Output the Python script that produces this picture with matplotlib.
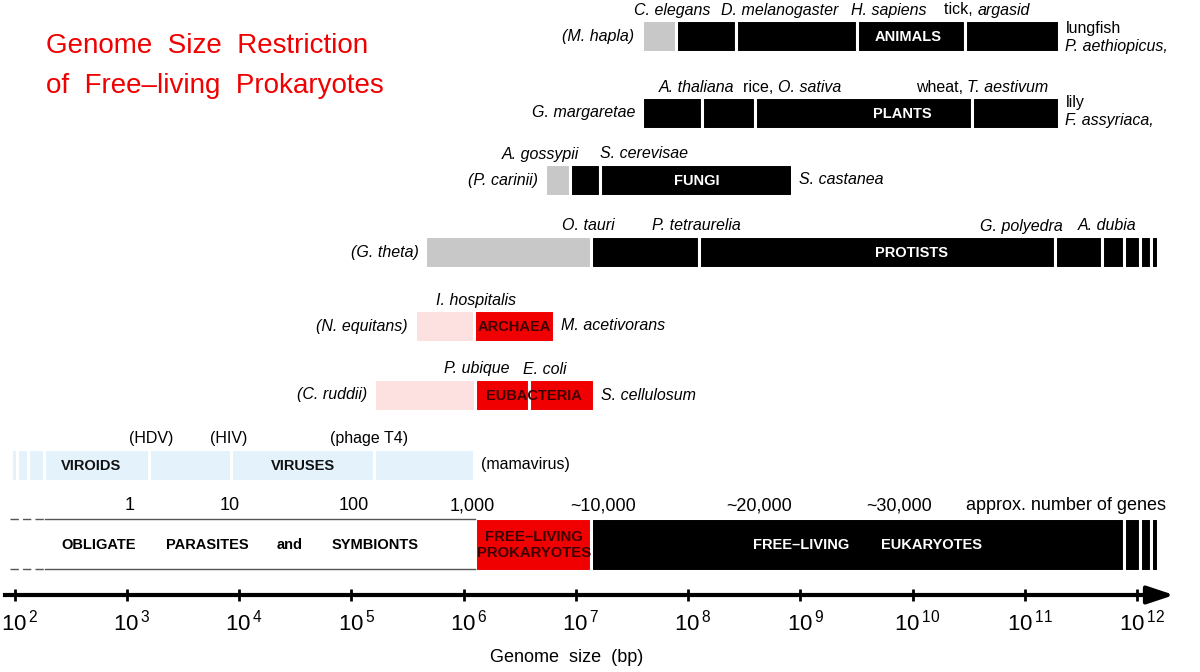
import matplotlib.pyplot as plt
import numpy as np
from matplotlib.ticker import NullLocator
from matplotlib.transforms import ScaledTranslation

plt.rcParams['font.family'] = ['Liberation Sans', 'DejaVu Sans']
plt.rcParams['mathtext.fontset'] = 'custom'
plt.rcParams['mathtext.rm'] = 'Liberation Sans'

GREY = '#c8c8c8'
BLUE = '#e4f2fc'
PINK = '#fde1e1'
RED = '#f00000'
DARKRED = '#3c0000'
BLACK = 'black'

# segment boundaries, log10 of genome size (bp)
animals = [7.586, 7.889, 8.432, 9.506, 10.465, 11.301]
plants = [7.590, 8.129, 8.599, 10.529, 11.301]
fungi = [6.722, 6.948, 7.220, 8.927]
protists = [5.661, 7.139, 8.098, 11.265, 11.687, 11.887, 12.029, 12.125, 12.186]
archaea = [5.566, 6.095, 6.808]
eubacteria = [5.207, 6.102, 6.581, 7.167]
viruses = [1.973, 2.022, 2.118, 2.267, 3.194, 3.929, 5.203, 6.095]
lifestyle = [6.102, 7.139, 11.887, 12.029, 12.125, 12.186]
parasites_range = [1.96, 2.272, 6.102]

animals_colors = [GREY] + [BLACK] * 4
plants_colors = [BLACK] * 4
fungi_colors = [GREY, BLACK, BLACK]
protists_colors = [GREY] + [BLACK] * 7
archaea_colors = [PINK, RED]
eubacteria_colors = [PINK, RED, RED]
viruses_colors = [BLUE] * 7
lifestyle_colors = [RED] + [BLACK] * 4

# species over the bars: (upright part, italic part), centre in log10 bp
animals_species = [('', 'C. elegans'), ('', 'D. melanogaster'), ('', 'H. sapiens'), ('tick, ', 'argasid')]
animals_species_x = [7.862, 8.82, 9.791, 10.664]
plants_species = [('', 'A. thaliana'), ('rice, ', 'O. sativa'), ('wheat, ', 'T. aestivum')]
plants_species_x = [8.078, 8.927, 10.619]
fungi_species = [('', 'A. gossypii'), ('', 'S. cerevisae')]
fungi_species_x = [6.682, 7.608]
protists_species = [('', 'O. tauri'), ('', 'P. tetraurelia'), ('', 'G. polyedra'), ('', 'A. dubia')]
protists_species_x = [7.109, 8.071, 10.967, 11.733]
archaea_species = [('', 'I. hospitalis')]
archaea_species_x = [6.111]
eubacteria_species = [('', 'P. ubique'), ('', 'E. coli')]
eubacteria_species_x = [6.12, 6.726]
viruses_species = [('(HDV)', ''), ('(HIV)', ''), ('(phage T4)', '')]
viruses_species_x = [3.216, 3.911, 5.158]

smallest = ['(M. hapla)', 'G. margaretae', '(P. carinii)', '(G. theta)', '(N. equitans)', '(C. ruddii)']
largest = ['', '', 'S. castanea', '', 'M. acetivorans', 'S. cellulosum', '(mamavirus)']

group_names = ['ANIMALS', 'PLANTS', 'FUNGI', 'PROTISTS', 'ARCHAEA', 'EUBACTERIA', 'VIROIDS']
group_names_x = [9.96, 9.907, 8.08, 9.987, 6.45, 6.63, 2.68]

gene_counts = ['1', '10', '100', '1,000', '~10,000', '~20,000', '~30,000']
gene_counts_x = [3.03, 3.92, 5.02, 6.08, 7.24, 8.63, 9.88]

row_y = [36, 113, 180, 252, 326, 395, 464.5]

fig = plt.figure(figsize=(12, 6.72), dpi=100)
ax = fig.add_axes([0, 0, 1, 1])
ax.set_xscale('log')
ax.set_xlim(10 ** 1.8708, 10 ** 12.5612)
ax.set_ylim(672, 0)
renderer = fig.canvas.get_renderer()


def species_label(x, y, upright, italic):
    # upright and italic parts side by side, centred on x
    if not italic:
        ax.text(x, y, upright, ha='center', va='center', fontsize=11.5)
        return
    if not upright:
        ax.text(x, y, italic, ha='center', va='center', fontsize=11.5, style='italic')
        return
    t1 = ax.text(x, y, upright, ha='left', va='center', fontsize=11.5)
    t2 = ax.annotate(italic, xy=(1, 0), xycoords=t1, ha='left', va='bottom',
                     fontsize=11.5, style='italic')
    w = t1.get_window_extent(renderer).width + t2.get_window_extent(renderer).width
    t1.set_transform(ax.transData + ScaledTranslation(-w / 2 / 100, 0, fig.dpi_scale_trans))


rows = [(animals, animals_colors, animals_species, animals_species_x),
        (plants, plants_colors, plants_species, plants_species_x),
        (fungi, fungi_colors, fungi_species, fungi_species_x),
        (protists, protists_colors, protists_species, protists_species_x),
        (archaea, archaea_colors, archaea_species, archaea_species_x),
        (eubacteria, eubacteria_colors, eubacteria_species, eubacteria_species_x),
        (viruses, viruses_colors, viruses_species, viruses_species_x)]

for i, (edges, colors, names, names_x) in enumerate(rows):
    y = row_y[i]
    bp = 10 ** np.array(edges)
    ax.barh(y, np.diff(bp), left=bp[:-1], height=32, color=colors,
            edgecolor='white', linewidth=2.2)
    for (up, it), nx in zip(names, names_x):
        species_label(10 ** nx, y - 26, up, it)
    if i < len(smallest):
        ax.annotate(smallest[i], xy=(bp[0], y), xytext=(-5, 0), textcoords='offset points',
                    ha='right', va='center', fontsize=11.5, style='italic')
    if largest[i]:
        ax.annotate(largest[i], xy=(bp[-1], y), xytext=(5, 0), textcoords='offset points',
                    ha='left', va='center', fontsize=11.5,
                    style='normal' if i == 6 else 'italic')
    tcolor = 'white' if i < 4 else (DARKRED if i < 6 else '#111111')
    ax.text(10 ** group_names_x[i], y + 1, group_names[i], ha='center', va='center',
            fontsize=10.5, fontweight='bold', color=tcolor)

ax.text(10 ** 4.57, row_y[6] + 1, 'VIRUSES', ha='center', va='center',
        fontsize=10.5, fontweight='bold', color='#111111')

# largest genomes
ax.annotate('lungfish', xy=(10 ** animals[-1], row_y[0] - 8), xytext=(5, 0),
            textcoords='offset points', va='center', fontsize=11.5)
ax.annotate('P. aethiopicus,', xy=(10 ** animals[-1], row_y[0] + 10), xytext=(5, 0),
            textcoords='offset points', va='center', fontsize=11.5, style='italic')
ax.annotate('lily', xy=(10 ** plants[-1], row_y[1] - 11), xytext=(5, 0),
            textcoords='offset points', va='center', fontsize=11.5)
ax.annotate('F. assyriaca,', xy=(10 ** plants[-1], row_y[1] + 8), xytext=(5, 0),
            textcoords='offset points', va='center', fontsize=11.5, style='italic')

# lifestyle band
band_y = 544
lb = 10 ** np.array(parasites_range)
for yy in [519, 569]:
    ax.plot(lb[:2], [yy, yy], color='#555555', lw=1, ls=(0, (6, 3)))
    ax.plot(lb[1:], [yy, yy], color='#555555', lw=1)
bp = 10 ** np.array(lifestyle)
ax.barh(band_y, np.diff(bp), left=bp[:-1], height=53, color=lifestyle_colors,
        edgecolor='white', linewidth=2.2)

for word, wx in zip(['OBLIGATE', 'PARASITES', 'and', 'SYMBIONTS'], [2.75, 3.72, 4.455, 5.21]):
    ax.text(10 ** wx, band_y + 1, word, ha='center', va='center', fontsize=10.5, fontweight='bold')
ax.text(10 ** 6.63, band_y + 1, 'FREE–LIVING\nPROKARYOTES', ha='center', va='center',
        fontsize=10.7, fontweight='bold', color=DARKRED, linespacing=1.25)
ax.text(10 ** 9.01, band_y + 1, 'FREE–LIVING', ha='center', va='center',
        fontsize=10.5, fontweight='bold', color='white')
ax.text(10 ** 10.17, band_y + 1, 'EUKARYOTES', ha='center', va='center',
        fontsize=10.5, fontweight='bold', color='white')

for g, gx in zip(gene_counts, gene_counts_x):
    ax.text(10 ** gx, 506, g, ha='center', va='center', fontsize=13)
ax.text(10 ** 10.476, 506, 'approx. number of genes', ha='left', va='center', fontsize=13)

# genome size axis
for s in ['left', 'top', 'right']:
    ax.spines[s].set_visible(False)
ax.spines['bottom'].set_position(('data', 595))
ax.spines['bottom'].set_linewidth(3)
ax.spines['bottom'].set_bounds(10 ** 1.915, 10 ** 12.2)
ax.annotate('', xy=(10 ** 12.33, 595), xytext=(10 ** 12.15, 595),
            arrowprops=dict(arrowstyle='-|>,head_length=0.9,head_width=0.3', lw=3,
                            color='black', mutation_scale=18, shrinkA=0, shrinkB=0))
ax.set_yticks([])
ax.set_xticks(10.0 ** np.arange(2, 13))
ax.set_xticklabels([r'$10^{\,%d}$' % n for n in range(2, 13)], fontsize=16)
ax.xaxis.set_minor_locator(NullLocator())
ax.tick_params(axis='x', direction='inout', length=9, width=2, pad=6)
shift = ScaledTranslation(5 / 100, 0, fig.dpi_scale_trans)
for tick in ax.xaxis.get_major_ticks():
    tick.label1.set_transform(tick.label1.get_transform() + shift)
ax.text(10 ** 6.92, 658, 'Genome  size  (bp)', ha='center', va='center', fontsize=13)

fig.text(46 / 1200, 1 - 46 / 672, 'Genome  Size  Restriction', color=RED, fontsize=20, va='center')
fig.text(46 / 1200, 1 - 86 / 672, 'of  Free–living  Prokaryotes', color=RED, fontsize=20, va='center')

plt.savefig('out.png', dpi=100)
